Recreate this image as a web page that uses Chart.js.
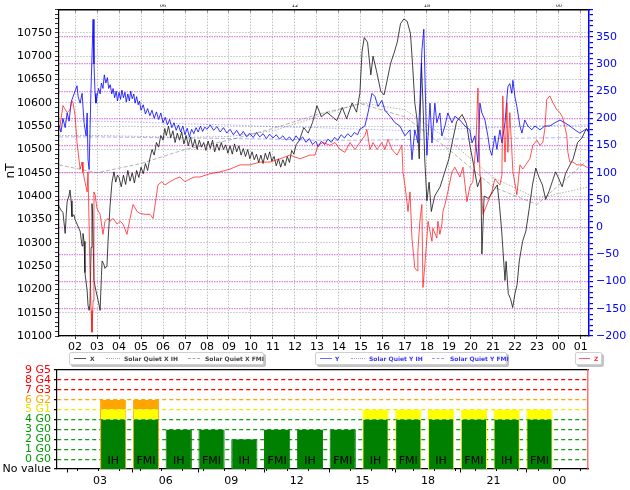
<!DOCTYPE html>
<html><head><meta charset="utf-8">
<script src="https://cdn.jsdelivr.net/npm/chart.js@4/dist/chart.umd.min.js"></script>
<style>
html,body{margin:0;padding:0;background:#fff;}
#wrap{position:relative;width:630px;height:490px;overflow:hidden;font-family:"DejaVu Sans",sans-serif;background:#fff;}
canvas{position:absolute;left:0;top:0;}
.leg{position:absolute;height:11px;border:1px solid #cfcfcf;border-radius:2px;background:#fff;box-shadow:2px 2px 0 #c4c4c4;font-size:6px;font-weight:bold;line-height:11px;white-space:nowrap;}
.leg span{position:absolute;top:0;}
.leg i{position:absolute;top:5px;height:0;border-top-width:1px;}
#nt{position:absolute;left:-2px;top:164px;width:24px;text-align:center;font-size:12px;transform:rotate(-90deg);}
</style></head>
<body><div id="wrap">
<canvas id="top" width="630" height="490"></canvas>
<canvas id="kp" width="630" height="490"></canvas>
<div id="nt">nT</div>
<div class="leg" style="left:69px;top:352px;width:193px;color:#444;">
 <i style="left:4px;width:12px;border-top-style:solid;border-color:#555;"></i><span style="left:20px">X</span>
 <i style="left:36px;width:14px;border-top-style:dotted;border-color:#aaa;"></i><span style="left:54px">Solar Quiet X IH</span>
 <i style="left:118px;width:12px;border-top-style:dashed;border-color:#aaa;"></i><span style="left:135px">Solar Quiet X FMI</span>
</div>
<div class="leg" style="left:315px;top:352px;width:190px;color:#3a3aff;">
 <i style="left:4px;width:12px;border-top-style:solid;border-color:#6a6aff;"></i><span style="left:19px">Y</span>
 <i style="left:35px;width:14px;border-top-style:dotted;border-color:#9a9aff;"></i><span style="left:53px">Solar Quiet Y IH</span>
 <i style="left:116px;width:12px;border-top-style:dashed;border-color:#9a9aff;"></i><span style="left:134px">Solar Quiet Y FMI</span>
</div>
<div class="leg" style="left:575px;top:352px;width:25px;color:#ff3030;">
 <i style="left:3px;width:11px;border-top-style:solid;border-color:#ff6060;"></i><span style="left:18px">Z</span>
</div>
</div>
<script>
// ---------- data ----------
const hoursX = [1.27,1.36,1.45,1.55,1.6,1.64,1.72,1.77,1.82,1.86,1.95,2.0,2.09,2.18,2.23,2.32,2.36,2.41,2.45,2.55,2.59,2.64,2.68,2.73,2.77,2.8,2.86,2.95,3.05,3.14,3.2,3.23,3.3,3.36,3.45,3.5,3.59,3.68,3.77,
 3.85,3.93,4.0,4.1,4.2,4.3,4.4,4.5,4.6,4.7,4.8,4.9,5.0,5.1,5.2,5.3,
 5.4,5.5,5.6,5.7,5.8,5.9,6.0,6.08,6.15,6.25,6.35,6.45,6.55,6.65,6.75,6.85,6.95,7.05,7.15,7.25,7.35,7.45,7.55,7.65,7.75,7.85,7.95,8.05,8.15,8.25,8.35,8.45,8.55,8.65,8.75,8.85,8.95,9.05,9.15,9.25,9.35,9.45,9.55,9.65,9.75,9.85,9.95,10.05,10.15,10.25,10.35,10.45,10.55,10.65,10.75,10.85,10.95,11.05,11.15,11.25,11.35,11.45,11.55,11.65,11.75,11.85,11.95,12.05,
 12.2,12.4,12.6,12.8,13.0,13.2,13.45,13.7,13.9,14.15,14.35,14.6,14.8,14.95,15.05,15.15,15.3,15.45,15.55,15.7,15.9,16.05,16.2,16.35,16.5,16.65,16.8,16.95,17.1,17.25,17.35,17.45,17.55,17.65,17.75,17.82,17.9,18.0,18.1,18.2,18.35,18.6,18.8,19.0,19.15,19.35,19.6,19.8,19.95,20.15,20.3,20.45,20.5,20.6,20.8,21.0,21.2,21.3,21.4,21.55,21.6,21.7,21.8,21.9,22.0,22.1,22.2,22.35,22.5,22.65,22.8,22.95,23.1,23.25,23.4,23.55,23.7,23.85,24.0,24.15,24.3,24.45,24.65,24.85,25.05,25.25,25.37];
const valuesX = [10378,10370,10365,10320,10360,10388,10400,10413,10390,10356,10360,10350,10340,10330,10325,10293,10320,10303,10236,10197,10166,10155,10170,10290,10384,10360,10219,10197,10176,10155,10230,10261,10255,10245,10250,10303,10378,10430,10452,
 10430,10445,10440,10420,10445,10425,10455,10432,10450,10428,10455,10440,10462,10448,10470,10455,
 10480,10500,10488,10515,10505,10530,10520,10545,10530,10550,10525,10540,10515,10535,10520,10538,10512,10530,10508,10527,10505,10522,10500,10520,10505,10515,10498,10518,10502,10520,10495,10512,10498,10515,10500,10510,10492,10508,10490,10512,10495,10508,10488,10502,10485,10500,10480,10495,10478,10490,10472,10488,10470,10492,10478,10495,10475,10485,10465,10480,10462,10478,10465,10485,10472,10498,10490,10510,
 10520,10547,10535,10558,10594,10570,10580,10570,10562,10590,10566,10600,10580,10620,10710,10740,10730,10660,10700,10670,10625,10617,10650,10685,10706,10730,10770,10780,10775,10749,10680,10600,10564,10480,10685,10600,10480,10390,10430,10367,10400,10420,10450,10480,10515,10560,10575,10555,10510,10460,10420,10440,10276,10400,10395,10410,10424,10380,10325,10219,10260,10191,10180,10161,10190,10210,10261,10303,10325,10373,10424,10460,10440,10424,10393,10410,10431,10452,10437,10420,10448,10462,10480,10515,10525,10545,10535];

const hoursY = [1.27,1.36,1.45,1.55,1.64,1.73,1.82,2.09,2.14,2.23,2.32,2.41,2.5,2.55,2.59,2.64,2.72,2.82,2.86,2.91,2.95,
 3.0,3.07,3.14,3.2,3.27,3.33,3.4,3.47,3.53,3.6,3.67,3.73,3.8,3.87,3.93,4.0,4.07,4.13,4.2,4.27,4.33,4.4,4.47,4.53,4.6,4.67,4.73,4.8,4.87,4.93,
 5.0,5.1,5.2,5.3,5.4,5.5,5.6,5.7,5.8,5.9,6.0,6.1,6.2,6.3,6.4,6.5,6.6,6.7,6.8,6.9,7.0,7.1,7.2,7.3,7.4,7.5,7.6,7.7,7.8,7.9,
 8.0,8.15,8.3,8.45,8.6,8.75,8.9,9.05,9.2,9.35,9.5,9.65,9.8,9.95,10.1,10.25,10.4,10.55,10.7,10.85,11.0,11.15,11.3,11.45,11.6,11.75,11.9,12.05,12.2,12.35,12.5,12.65,12.8,12.95,13.05,13.2,13.35,13.5,13.65,13.8,13.95,14.1,14.25,14.4,14.55,14.7,14.85,14.95,
 15.18,15.32,15.5,15.64,15.77,15.95,16.09,16.32,16.55,16.77,17.0,17.23,17.32,17.45,17.59,17.68,17.77,17.86,17.95,18.0,18.14,18.23,18.36,18.45,18.59,18.68,18.82,18.95,19.14,19.27,19.5,19.73,19.95,20.05,20.18,20.32,20.41,20.5,20.64,20.77,20.86,20.95,21.09,21.18,21.32,21.41,21.55,21.68,21.77,21.86,21.91,22.0,22.09,22.23,22.32,22.45,22.59,22.77,22.91,23.14,23.36,23.59,23.82,24.05,24.27,24.5,24.73,24.95,25.18,25.37];
const valuesY = [188,175,200,183,210,195,230,260,240,228,246,192,168,210,124,106,246,382,300,246,228,
 240,255,245,265,255,280,265,275,255,262,245,255,238,250,232,248,235,252,238,248,230,245,232,250,236,245,228,240,225,232,
 215,225,208,218,205,215,200,212,198,210,192,202,188,198,183,192,178,188,175,186,170,182,166,180,172,183,175,186,176,184,
 180,188,178,185,175,183,173,180,170,178,168,176,166,172,165,174,166,172,163,171,164,170,162,168,160,166,158,168,160,166,156,163,152,158,148,158,152,162,156,165,160,170,164,172,166,174,170,180,
 186,210,246,240,222,233,215,204,192,186,168,179,124,179,155,228,324,364,210,132,228,155,228,192,210,168,186,210,192,204,197,186,179,155,168,119,228,210,197,168,143,132,168,143,179,155,192,258,264,246,270,240,222,186,173,197,186,179,186,179,186,186,192,197,192,186,179,173,179,179];

const hoursZ = [1.27,1.32,1.45,1.64,1.77,1.86,1.91,2.0,2.09,2.23,2.32,2.36,2.45,2.55,2.59,2.68,2.73,2.77,2.82,2.86,2.91,3.0,3.14,3.27,3.36,3.5,3.59,3.73,3.91,4.05,4.18,4.36,4.5,4.64,4.82,4.95,5.18,5.41,5.55,5.68,5.77,5.95,6.09,6.32,6.55,6.77,7.0,7.23,7.45,7.68,8.14,8.59,9.05,9.5,9.95,10.41,10.86,11.32,11.77,12.23,12.68,12.91,13.05,13.27,13.59,13.82,14.05,14.27,14.5,14.73,14.95,15.18,15.27,15.41,15.55,15.73,15.95,16.09,16.23,16.41,16.64,16.77,16.86,16.91,17.0,17.09,17.14,17.23,17.32,17.45,17.55,17.59,17.68,17.77,17.82,17.91,18.0,18.05,18.23,18.27,18.45,18.5,18.59,18.68,18.73,18.82,18.95,19.14,19.27,19.5,19.64,19.82,19.95,20.09,20.23,20.32,20.41,20.55,20.73,20.95,21.09,21.32,21.41,21.45,21.55,21.64,21.68,21.77,21.91,22.09,22.23,22.36,22.68,22.82,23.0,23.14,23.27,23.36,23.45,23.59,23.73,23.91,24.05,24.18,24.36,24.41,24.5,24.64,24.82,24.95,25.09,25.27,25.37];
const valuesZ = [10540,10551,10594,10579,10585,10604,10600,10573,10515,10458,10473,10452,10431,10409,10452,10240,10155,10108,10176,10409,10403,10373,10361,10318,10346,10352,10346,10352,10340,10346,10340,10318,10352,10382,10367,10363,10361,10361,10352,10395,10424,10431,10424,10431,10437,10441,10431,10437,10441,10441,10448,10452,10458,10467,10467,10473,10473,10480,10488,10480,10488,10488,10509,10515,10509,10515,10500,10494,10515,10500,10515,10530,10543,10500,10515,10500,10515,10500,10522,10500,10488,10500,10509,10452,10424,10388,10367,10409,10310,10246,10240,10282,10346,10382,10204,10255,10310,10346,10303,10331,10310,10346,10318,10340,10367,10382,10409,10452,10462,10441,10462,10388,10420,10431,10515,10632,10452,10361,10382,10409,10437,10424,10445,10615,10473,10600,10494,10579,10452,10403,10467,10458,10480,10509,10520,10509,10515,10543,10607,10615,10600,10585,10579,10568,10530,10494,10473,10473,10467,10467,10467,10462,10462];

const quietHours = [1.27,3,5,7,9,11,13,15,17,19,21,23,25.37];
const quietXIH  = [10530,10530,10528,10526,10528,10540,10570,10600,10585,10520,10440,10395,10420];
const quietXFMI = [10467,10450,10470,10500,10520,10545,10575,10598,10570,10500,10420,10382,10480];
const quietYIH  = [195,195,193,190,188,185,183,180,178,180,183,186,188];
const quietYFMI = [166,166,165,164,163,162,160,160,161,162,163,164,165];

const kpStart  = [3,4.5,6,7.5,9,10.5,12,13.5,15,16.5,18,19.5,21,22.5];
const kpValue  = [6,6,3,3,2,3,3,3,5,5,5,5,5,5];
const kpSource = ['IH','FMI','IH','FMI','IH','FMI','IH','FMI','IH','FMI','IH','FMI','IH','FMI'];
const kpLabels = ['No value','0 G0','1 G0','2 G0','3 G0','4 G0','5 G1','6 G2','7 G3','8 G4','9 G5'];

// ---------- helpers ----------
const pts = (h, v) => h.map((t, i) => ({x: t, y: v[i]}));
const hh = v => String(((v % 24) + 24) % 24).padStart(2, '0');
const FONT = {family: 'DejaVu Sans', size: 11};
const GRAY = 'rgba(150,150,150,0.75)';
const MAG = 'rgba(215,90,215,0.75)';

// ---------- top chart ----------
const lineDS = (label, data, color, axis, width, dash) => ({
  label, data, borderColor: color, borderWidth: width, borderDash: dash || [],
  pointRadius: 0, tension: 0, yAxisID: axis, fill: false
});

new Chart(document.getElementById('top'), {
  type: 'line',
  data: {datasets: [
    lineDS('Z', pts(hoursZ, valuesZ), 'rgba(255,0,0,0.85)', 'y', 0.8),
    lineDS('Y', pts(hoursY, valuesY), '#0000ff', 'y2', 0.8),
    lineDS('X', pts(hoursX, valuesX), '#111', 'y', 0.8),
    lineDS('Solar Quiet X IH', pts(quietHours, quietXIH), 'rgba(120,120,120,0.7)', 'y', 0.8, [1.5,1.5]),
    lineDS('Solar Quiet X FMI', pts(quietHours, quietXFMI), 'rgba(120,120,120,0.7)', 'y', 0.8, [4,2]),
    lineDS('Solar Quiet Y IH', pts(quietHours, quietYIH), 'rgba(60,60,255,0.5)', 'y2', 0.8, [1.5,1.5]),
    lineDS('Solar Quiet Y FMI', pts(quietHours, quietYFMI), 'rgba(60,60,255,0.5)', 'y2', 0.8, [4,2])
  ]},
  options: {
    responsive: false, animation: false, events: [],
    layout: {autoPadding: false, padding: {left: 0, right: 0, top: 0, bottom: 138}},
    plugins: {legend: {display: false}, tooltip: {enabled: false}},
    scales: {
      x: {type: 'linear', position: 'bottom', min: 1.27, max: 25.37,
        ticks: {stepSize: 1, includeBounds: false, autoSkip: false, maxRotation: 0, color: '#000', font: FONT, padding: 2, callback: v => hh(v)},
        grid: {color: GRAY, lineWidth: 0.8, tickLength: 3, tickColor: '#000'},
        border: {color: '#000', width: 1.2, dash: [1.5, 1.5]},
        afterFit: s => { s.height = 16; }},
      xTop: {type: 'linear', position: 'top', min: 1.27, max: 25.37,
        ticks: {stepSize: 1, includeBounds: false, autoSkip: false, maxRotation: 0, color: '#000', font: {family: 'DejaVu Sans', size: 5}, padding: 4, callback: v => (v % 6 === 0 ? hh(v) : '')},
        grid: {drawOnChartArea: false, tickLength: -3, tickColor: '#888'},
        border: {color: '#000', width: 1.5},
        afterFit: s => { s.height = 5; }},
      y: {position: 'left', min: 10100, max: 10800,
        ticks: {stepSize: 10, autoSkip: false, color: '#000', font: FONT, padding: 3, callback: v => (v % 50 === 0 && v < 10800 ? String(v) : '')},
        grid: {color: c => (c.tick.value % 50 === 0 ? GRAY : 'rgba(0,0,0,0)'), lineWidth: 0.8, tickLength: 4, tickColor: '#000'},
        border: {color: '#000', width: 1.2, dash: [1.5, 1.5]},
        afterFit: s => { s.width = 59; }},
      y2: {position: 'right', min: -200, max: 400,
        ticks: {stepSize: 10, autoSkip: false, color: '#0000ff', font: FONT, padding: 3, callback: v => (v % 50 === 0 && v < 400 ? String(v).replace('-', '\u2212') : '')},
        grid: {color: c => (c.tick.value % 50 === 0 && c.tick.value > -200 && c.tick.value < 400 ? MAG : 'rgba(0,0,0,0)'), lineWidth: 1.2, tickLength: 4, tickColor: '#0000ff'},
        border: {color: '#0000ff', width: 1.5, dash: [1.5, 1]},
        afterFit: s => { s.width = 41; }}
    }
  }
});

// ---------- Kp chart ----------
const levelColor = v => (v >= 7 ? '#ff0000' : v >= 6 ? '#ffa500' : v >= 5 ? '#ffff00' : '#008000');
const topColor = kpValue.map(v => levelColor(v));
const seg = (lo, hi) => kpStart.map((s, i) => ({x: s + 0.6, y: kpValue[i] > lo ? [lo, Math.min(kpValue[i], hi)] : null}));
const barDS = (label, data, fill) => ({
  label, data, backgroundColor: fill, borderColor: topColor,
  borderWidth: {left: 1, right: 1, top: 0, bottom: 0}, borderSkipped: false,
  grouped: false, barPercentage: 0.8, categoryPercentage: 1.0
});
const gridColors = ['rgba(0,0,0,0)','#1a9a1a','#1a9a1a','#1a9a1a','#1a9a1a','#1a9a1a','#e8e800','#ffa500','#ff0000','#ff0000','rgba(0,0,0,0)'];
const labelColors = ['#000','#009900','#009900','#009900','#009900','#009900','#e6e600','#ffa500','#ff0000','#ff0000','#ff0000'];

const sourceText = {
  id: 'sourceText',
  afterDatasetsDraw(chart) {
    const ctx = chart.ctx;
    const meta = chart.getDatasetMeta(0);
    const yb = chart.scales.y.getPixelForValue(-1);
    ctx.save();
    ctx.font = '11px "DejaVu Sans"';
    ctx.fillStyle = '#000';
    ctx.textAlign = 'center';
    ctx.textBaseline = 'middle';
    meta.data.forEach((el, i) => ctx.fillText(kpSource[i], el.x, yb - 7.5));
    ctx.restore();
  }
};

new Chart(document.getElementById('kp'), {
  type: 'bar',
  data: {datasets: [
    barDS('G0', seg(-1, 4), '#008000'),
    barDS('G1', seg(4, 5), '#ffff00'),
    barDS('G2', seg(5, 6), '#ffa500')
  ]},
  options: {
    responsive: false, animation: false, events: [],
    layout: {autoPadding: false, padding: {left: 0, right: 0, top: 370, bottom: 0}},
    plugins: {legend: {display: false}, tooltip: {enabled: false}},
    scales: {
      x: {type: 'linear', position: 'bottom', min: 1.03, max: 25.32, offset: false,
        ticks: {stepSize: 3, includeBounds: false, autoSkip: false, maxRotation: 0, color: '#000', font: FONT, padding: 2, callback: v => hh(v)},
        grid: {drawOnChartArea: false, tickLength: 3.5, tickColor: '#000'},
        border: {color: '#000', width: 1.2},
        afterFit: s => { s.height = 21; }},
      xMinor: {type: 'linear', position: 'bottom', weight: -1, min: 1.03, max: 25.32,
        ticks: {stepSize: 1, includeBounds: false, autoSkip: false, display: false},
        grid: {drawOnChartArea: false, tickLength: 2, tickColor: '#000'},
        border: {display: false},
        afterFit: s => { s.height = 0; }},
      xTop: {type: 'linear', position: 'top', min: 1.03, max: 25.32,
        ticks: {display: false}, grid: {display: false},
        border: {color: '#000', width: 1.2},
        afterFit: s => { s.height = 0; }},
      y: {position: 'left', min: -1, max: 9, z: 1,
        ticks: {stepSize: 1, autoSkip: false, font: FONT, padding: 3, color: c => labelColors[c.tick.value + 1], callback: v => kpLabels[v + 1]},
        grid: {color: c => gridColors[c.tick.value + 1], lineWidth: 1.2, tickLength: 3, tickColor: '#000'},
        border: {color: '#000', width: 1.2, dash: [4, 3]},
        afterFit: s => { s.width = 57; }},
      yR: {position: 'right', min: -1, max: 9,
        ticks: {display: false}, grid: {display: false},
        border: {color: 'rgba(255,80,80,0.8)', width: 1.5},
        afterFit: s => { s.width = 42; }}
    }
  },
  plugins: [sourceText]
});
</script>
</body></html>
